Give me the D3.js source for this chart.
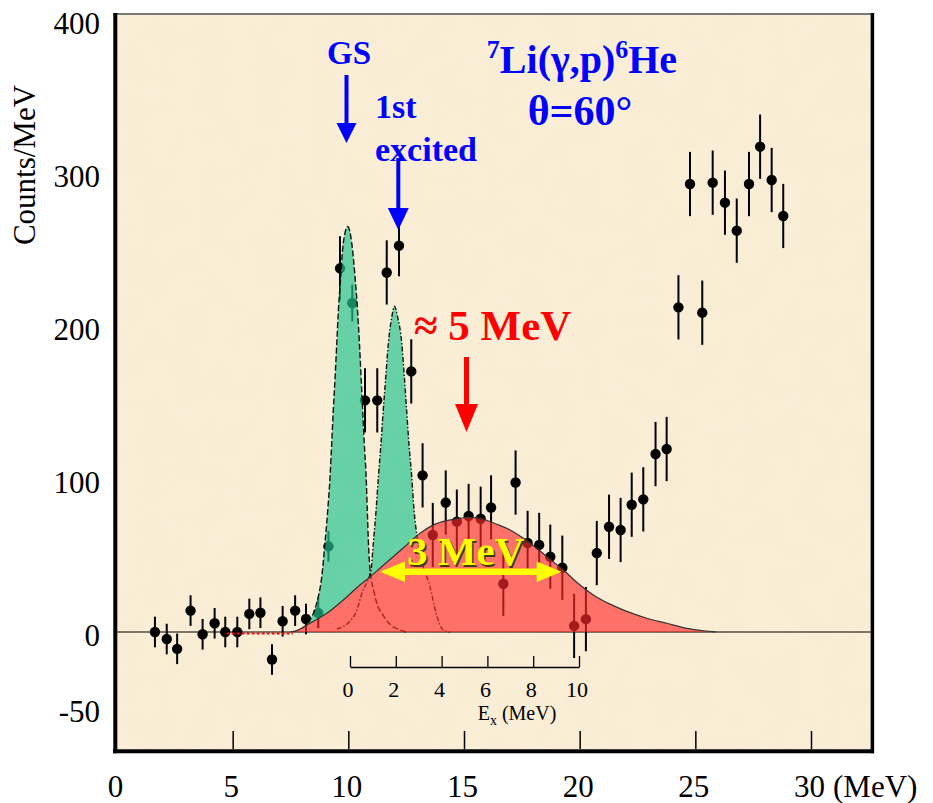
<!DOCTYPE html>
<html><head><meta charset="utf-8">
<script src="https://cdn.jsdelivr.net/npm/d3@7/dist/d3.min.js"></script>
<style>body{margin:0;background:#fff}svg{display:block}</style>
</head><body>
<svg id="c" width="933" height="803"></svg>
<script>
// ---------- data ----------
const energy=[1.64,2.15,2.6,3.18,3.7,4.22,4.68,5.2,5.72,6.2,6.7,7.16,7.7,8.17,8.7,9.14,9.64,10.17,10.72,11.25,11.66,12.19,12.72,13.21,13.65,14.21,14.69,15.2,15.72,16.17,16.7,17.23,17.75,18.25,18.73,19.25,19.76,20.27,20.74,21.27,21.77,22.25,22.75,23.28,23.76,24.27,24.77,25.3,25.75,26.28,26.79,27.32,27.8,28.3,28.8];
const counts=[0,-4.6,-11,14,-1.5,5.7,0,0,11.8,12.6,-18,7,14,8.5,12.5,56,237.7,215,151.4,151.4,235,252.5,170.3,102.4,63.4,84.6,72.1,75.8,74,81.4,31.5,97.7,58.2,56.9,49.2,42,4,8.4,51.6,68.8,66.7,83.2,86.7,116.3,119.6,212.2,292.8,208.7,293.7,280.6,262.3,292.8,317.2,295.4,271.9];
const errors=[10,10,10,10,10,10,10,10,10,10,10,10,10,10,10,10,21,12,21,21,21,20,21,21,21,21,21,21,21,21,21,21,21,21,21,21,21,21,21,21,21,21,21,21,21,21,21,21,21,21,21,21,21,21,21];

// ground-state peak outline
const gsE=[7.99,8.34,8.63,8.85,8.99,9.11,9.21,9.28,9.35,9.43,9.50,9.57,9.67,9.78,9.97,10.15,10.29,10.40,10.48,10.55,10.62,10.69,10.77,10.82,10.87,10.94,11.1,11.23,11.5,11.8,12.24,12.5];
const gsY=[2.4,7.8,18.7,36,58,79.7,101.5,123,145,167,188.7,210,232,254,265,254,232,210,188.7,167,145,123,101.5,79.7,58,40.5,27,18.8,11,5,1.3,0];
// first excited state outline
const exE=[9.5,10.0,10.36,10.6,10.98,11.08,11.2,11.3,11.41,11.51,11.62,11.73,11.88,11.99,12.13,12.31,12.42,12.52,12.62,12.74,12.84,12.96,13.2,13.53,13.8,14.1,14.4];
const exY=[2,6,14,26,40.5,58,79.7,101.5,123,145,167,188.7,206,213,206,188.7,167,145,123,101.5,79.7,63.4,45,29.6,12,1.3,0];
// broad ~5 MeV component
const broadE=[7.5,7.77,8.34,9.07,9.78,10.5,10.94,11.5,12.0,12.5,13.1,13.68,14.25,14.69,15.26,15.84,16.42,16.99,17.57,18.14,18.72,19.3,19.87,20.59,21.31,22.04,22.9,23.77,24.63,25.35,25.9];
const broadY=[0,0.9,5.7,12.2,20.9,30.7,36,43.5,50,56.6,64.5,70,72.8,74,75,73.7,70.4,66.7,61.2,54.7,47.5,40.5,32.5,24.2,18.2,13.5,9,5.7,2.4,0.8,0];
const redBaseE=[4.74,7.6];

const xTicks=[0,5,10,15,20,25,30];
const xTickMarks=[5,10,15,20,25,30];
const yTicks=[-50,0,100,200,300,400];
const exTicks=[0,2,4,6,8,10];

// ---------- drawing ----------
const svg=d3.select("#c");
const serif='"Liberation Serif","Times New Roman",serif';
const x=d3.scaleLinear().domain([0,30]).range([117,811]);
const y=d3.scaleLinear().domain([0,400]).range([632,20]);
const xi=d3.scaleLinear().domain([0,10]).range([350,579]);
const L=117,R=871,T=15,B=749;

const defs=svg.append("defs");
defs.append("clipPath").attr("id","plot").append("rect").attr("x",L).attr("y",T).attr("width",R-L).attr("height",B-T);
const broad=broadE.map((e,i)=>[e,broadY[i]]);
defs.append("clipPath").attr("id","aboveRed").append("path")
  .attr("d",d3.area().x(d=>x(d[0])).y0(T).y1(d=>y(d[1])).curve(d3.curveMonotoneX)(broad));
// subtle parchment texture
const f=defs.append("filter").attr("id","tex").attr("x",0).attr("y",0).attr("width",1).attr("height",1);
f.append("feTurbulence").attr("type","fractalNoise").attr("baseFrequency",0.035).attr("numOctaves",3).attr("seed",4).attr("result","n");
f.append("feColorMatrix").attr("in","n").attr("type","matrix")
  .attr("values","0 0 0 0 0.82  0 0 0 0 0.72  0 0 0 0 0.55  0 0 0 0.22 -0.07").attr("result","c");
f.append("feComposite").attr("in","c").attr("in2","SourceGraphic").attr("operator","in");

// background
svg.append("rect").attr("x",L).attr("y",T).attr("width",R-L).attr("height",B-T).attr("fill","#faeed7");
svg.append("rect").attr("x",L).attr("y",T).attr("width",R-L).attr("height",B-T).attr("fill","#faeed7").attr("filter","url(#tex)");

const g=svg.append("g").attr("clip-path","url(#plot)");
// zero line
g.append("line").attr("x1",L).attr("x2",R).attr("y1",y(0)).attr("y2",y(0)).attr("stroke","#000").attr("stroke-width",1.2);

// data points
const pts=energy.map((e,i)=>({e,c:counts[i],s:errors[i]}));
g.append("g").selectAll("line").data(pts).join("line")
  .attr("x1",d=>x(d.e)).attr("x2",d=>x(d.e))
  .attr("y1",d=>y(d.c-d.s)).attr("y2",d=>y(d.c+d.s))
  .attr("stroke","#000").attr("stroke-width",2);
g.append("g").selectAll("circle").data(pts).join("circle")
  .attr("cx",d=>x(d.e)).attr("cy",d=>y(d.c)).attr("r",5.2).attr("fill","#000");

// green peaks
const gs=gsE.map((e,i)=>[e,gsY[i]]);
const ex=exE.map((e,i)=>[e,exY[i]]);
const area=d3.area().x(d=>x(d[0])).y0(y(0)).y1(d=>y(d[1])).curve(d3.curveMonotoneX);
const line=d3.line().x(d=>x(d[0])).y(d=>y(d[1])).curve(d3.curveMonotoneX);
const gg=g.append("g").attr("clip-path","url(#aboveRed)");
gg.append("path").attr("d",area(gs)).attr("fill","#22c48f").attr("fill-opacity",0.68);
gg.append("path").attr("d",area(ex)).attr("fill","#22c48f").attr("fill-opacity",0.68);
g.append("path").attr("d",line(gs)).attr("fill","none").attr("stroke","#111").attr("stroke-width",1.4).attr("stroke-dasharray","6,2.5");
g.append("path").attr("d",line(ex)).attr("fill","none").attr("stroke","#111").attr("stroke-width",1.4).attr("stroke-dasharray","5,2,1.5,2");

// red broad component
g.append("path").attr("d",area(broad)).attr("fill","#ff2a2a").attr("fill-opacity",0.64);
g.append("path").attr("d",line(broad)).attr("fill","none").attr("stroke","#333").attr("stroke-width",1.2);
g.append("line").attr("x1",x(redBaseE[0])).attr("x2",x(redBaseE[1])).attr("y1",y(-1)).attr("y2",y(-1))
  .attr("stroke","#e01010").attr("stroke-width",2).attr("stroke-dasharray","3,2");

// frame
svg.append("line").attr("x1",113).attr("x2",874).attr("y1",14).attr("y2",14).attr("stroke","#777").attr("stroke-width",2);
svg.append("line").attr("x1",115.3).attr("x2",115.3).attr("y1",13).attr("y2",753.3).attr("stroke","#000").attr("stroke-width",4);
svg.append("line").attr("x1",872.4).attr("x2",872.4).attr("y1",13).attr("y2",753.3).attr("stroke","#000").attr("stroke-width",3.5);
svg.append("line").attr("x1",113).attr("x2",874).attr("y1",751.3).attr("y2",751.3).attr("stroke","#000").attr("stroke-width",4);

// x tick marks (inside, upward)
const xt=svg.append("g").attr("transform",`translate(0,${B})`)
  .call(d3.axisTop(x).tickValues(xTickMarks).tickSize(18).tickFormat(""));
xt.select(".domain").remove();
xt.selectAll("line").attr("stroke","#000").attr("stroke-width",1.5);

// x tick labels
const xl=svg.append("g").attr("transform","translate(0,751)")
  .call(d3.axisBottom(x).tickValues(xTicks).tickSize(0).tickPadding(24).tickFormat(d=>d));
xl.select(".domain").remove();
xl.selectAll("text").attr("font-family",serif).attr("font-size",31).attr("fill","#000").attr("dx",-2);
svg.append("text").attr("x",833).attr("y",797).attr("font-family",serif).attr("font-size",31).text("(MeV)");

// y tick labels
const yl=svg.append("g").attr("transform",`translate(${L},0)`)
  .call(d3.axisLeft(y).tickValues(yTicks).tickSize(0).tickPadding(17).tickFormat(d=>d));
yl.select(".domain").remove();
yl.selectAll("text").attr("font-family",serif).attr("font-size",31).attr("fill","#000").attr("dy","0.42em");

svg.append("text").attr("transform","translate(35,165) rotate(-90)").attr("text-anchor","middle")
  .attr("font-family",serif).attr("font-size",31).text("Counts/MeV");

// inset Ex axis
const ia=svg.append("g").attr("transform","translate(0,667)")
  .call(d3.axisTop(xi).tickValues(exTicks).tickSize(11).tickSizeOuter(0).tickFormat(""));
ia.select(".domain").attr("stroke","#000").attr("stroke-width",1.3);
ia.selectAll("line").attr("stroke","#000").attr("stroke-width",1.3);
svg.append("g").selectAll("text").data(exTicks).join("text")
  .attr("x",d=>xi(d)-2).attr("y",697).attr("text-anchor","middle")
  .attr("font-family",serif).attr("font-size",22).text(d=>d);
const exl=svg.append("text").attr("x",517).attr("y",720).attr("text-anchor","middle").attr("font-family",serif).attr("font-size",20);
exl.append("tspan").text("E");
exl.append("tspan").attr("font-size",14).attr("dy",5).text("x");
exl.append("tspan").attr("dy",-5).text(" (MeV)");

// ---------- annotations ----------
function arrow(cx,y0,yHead,yTip,hw,sw,color){
  svg.append("rect").attr("x",cx-sw/2).attr("y",y0).attr("width",sw).attr("height",yHead-y0+1).attr("fill",color);
  svg.append("path").attr("d",`M${cx-hw},${yHead}L${cx+hw},${yHead}L${cx},${yTip}Z`).attr("fill",color);
}
const blue="#0000ff";
svg.append("text").attr("x",349).attr("y",64).attr("text-anchor","middle").attr("font-family",serif)
  .attr("font-weight","bold").attr("font-size",33).attr("fill",blue).text("GS");
arrow(346.5,75,123,143,10,4,blue);
svg.append("text").attr("x",375).attr("y",118).attr("font-family",serif).attr("font-weight","bold").attr("font-size",34).attr("fill",blue).text("1st");
svg.append("text").attr("x",375).attr("y",161).attr("font-family",serif).attr("font-weight","bold").attr("font-size",34).attr("fill",blue).text("excited");
arrow(398.3,158,208,230,10.5,4,blue);

const t1=svg.append("text").attr("x",582).attr("y",73).attr("text-anchor","middle").attr("font-family",serif)
  .attr("font-weight","bold").attr("font-size",40).attr("fill",blue);
t1.append("tspan").attr("font-size",26).attr("dy",-15).text("7");
t1.append("tspan").attr("dy",15).text("Li(γ,p)");
t1.append("tspan").attr("font-size",26).attr("dy",-15).text("6");
t1.append("tspan").attr("dy",15).text("He");
svg.append("text").attr("x",580).attr("y",125).attr("text-anchor","middle").attr("font-family",serif)
  .attr("font-weight","bold").attr("font-size",42).attr("fill",blue).text("θ=60°");

svg.append("text").attr("x",414).attr("y",340).attr("font-family",serif).attr("font-weight","bold")
  .attr("font-size",43).attr("fill","#ff0000").text("≈ 5 MeV");
arrow(466.5,357,404,432,11.5,5,"#ff0000");

// yellow double arrow and label
const yel="#ffff00";
svg.append("rect").attr("x",400).attr("y",568.5).attr("width",140).attr("height",6.5).attr("fill",yel);
svg.append("path").attr("d","M380,571.7L405,561.5L405,582Z").attr("fill",yel);
svg.append("path").attr("d","M561.7,571.7L536.7,561.5L536.7,582Z").attr("fill",yel);
svg.append("text").attr("x",408.5).attr("y",566.5).attr("font-family",serif).attr("font-weight","bold")
  .attr("font-size",41).attr("fill","#3d3a00").text("3 MeV");
svg.append("text").attr("x",407).attr("y",565).attr("font-family",serif).attr("font-weight","bold")
  .attr("font-size",41).attr("fill",yel).text("3 MeV");
</script>
</body></html>
